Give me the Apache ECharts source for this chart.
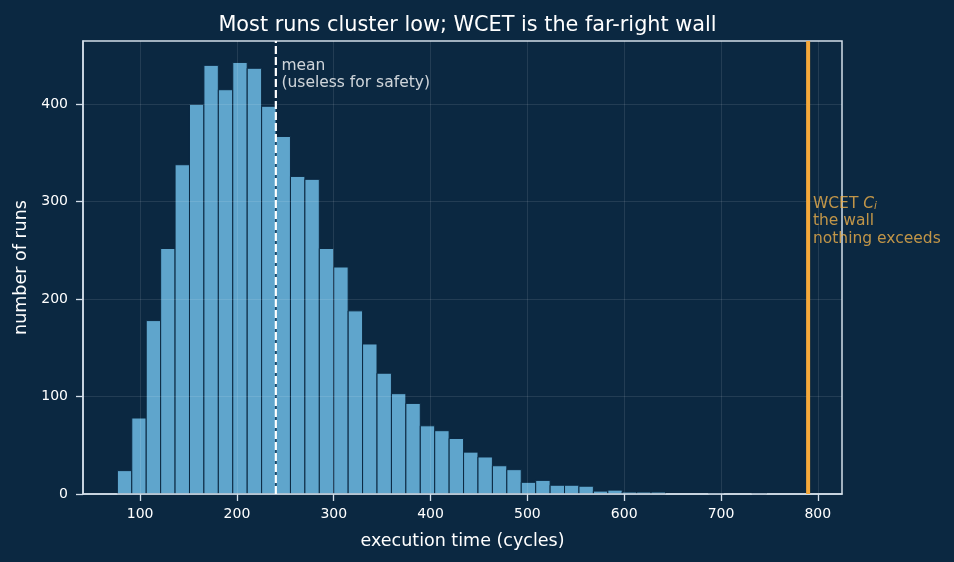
<!DOCTYPE html>
<html><head><meta charset="utf-8">
<script src="https://cdn.jsdelivr.net/npm/echarts@6/dist/echarts.min.js"></script>
<style>html,body{margin:0;padding:0;background:#0b2841;}#c{width:954px;height:562px;}</style>
</head><body><div id="c"></div>
<script>
const BIN_START = 76.5;
const BIN_WIDTH = 14.9;
const counts = [24, 78, 178, 252, 338, 400, 440, 415, 443, 437, 398, 367, 326, 323, 252, 233, 188, 154, 124, 103, 93, 70, 65, 57, 43, 38, 29, 25, 12, 14, 9, 9, 8, 3, 4, 2, 2, 2, 0, 0, 0, 1, 0, 0, 1];
const MEAN = 240.2;
const WCET = 790;
const X_MIN = 41, X_MAX = 825;
const Y_MIN = 0, Y_MAX = 465;
const xTicks = [100, 200, 300, 400, 500, 600, 700, 800];
const yTicks = [0, 100, 200, 300, 400];
const TITLE = 'Most runs cluster low; WCET is the far-right wall';
const MEAN_LABEL_POS = [246, 431];
const WCET_LABEL_POS = [795, 280];

const FONT = '"DejaVu Sans", sans-serif';
const bins = counts.map((c, i) => [BIN_START + i * BIN_WIDTH, BIN_START + (i + 1) * BIN_WIDTH, c]).filter(d => d[2] > 0);

const chart = echarts.init(document.getElementById('c'), null, {renderer: 'canvas'});
const spine = '#d3dee9';
const orange = '#efb04a';
chart.setOption({
  backgroundColor: '#0b2841',
  animation: false,
  title: {text: TITLE, left: 462.5, textAlign: 'center', top: 10, textStyle: {color: '#ffffff', fontFamily: FONT, fontSize: 20.8, fontWeight: 'normal'}},
  grid: {left: 83, right: 112, top: 41, bottom: 68, show: true, borderColor: spine, borderWidth: 1.5, backgroundColor: 'transparent'},
  xAxis: {
    type: 'value', min: X_MIN, max: X_MAX, z: 4,
    name: 'execution time (cycles)', nameLocation: 'middle', nameGap: 38,
    nameTextStyle: {color: '#ffffff', fontFamily: FONT, fontSize: 17.5},
    axisLine: {show: true, lineStyle: {color: spine, width: 1.5}},
    axisTick: {show: true, length: 7, lineStyle: {color: spine, width: 1.3}, customValues: xTicks},
    axisLabel: {color: '#ffffff', fontFamily: FONT, fontSize: 14, margin: 13, customValues: xTicks},
    splitLine: {show: true, lineStyle: {color: 'rgba(255,255,255,0.13)', width: 0.8}}
  },
  yAxis: {
    type: 'value', min: Y_MIN, max: Y_MAX, z: 4,
    name: 'number of runs', nameLocation: 'middle', nameGap: 51,
    nameTextStyle: {color: '#ffffff', fontFamily: FONT, fontSize: 17.5},
    axisLine: {show: true, lineStyle: {color: spine, width: 1.5}},
    axisTick: {show: true, length: 7, lineStyle: {color: spine, width: 1.3}, customValues: yTicks},
    axisLabel: {color: '#ffffff', fontFamily: FONT, fontSize: 14, margin: 15, customValues: yTicks},
    splitLine: {show: true, lineStyle: {color: 'rgba(255,255,255,0.13)', width: 0.8}}
  },
  series: [
    {
      type: 'custom',
      data: bins,
      encode: {x: [0, 1], y: 2},
      renderItem: function (params, api) {
        const p0 = api.coord([api.value(0), api.value(2)]);
        const p1 = api.coord([api.value(1), 0]);
        return {type: 'rect', shape: {x: p0[0], y: p0[1], width: p1[0] - p0[0], height: p1[1] - p0[1]},
          style: {fill: 'rgba(100,172,212,0.95)', stroke: '#0b2841', lineWidth: 1}};
      },
      z: 2
    },
    {
      type: 'line', data: [[MEAN, Y_MIN], [MEAN, Y_MAX]], symbol: 'none',
      lineStyle: {color: '#ffffff', width: 2.2, type: [8, 3]}, z: 5
    },
    {
      type: 'line', data: [[WCET, Y_MIN], [WCET, Y_MAX]], symbol: 'none',
      lineStyle: {color: '#f5a93b', width: 4}, z: 5
    },
    {
      type: 'scatter', symbolSize: 0, z: 6,
      data: [MEAN_LABEL_POS],
      label: {show: true, position: 'right', distance: 0, formatter: 'mean\n(useless for safety)',
        color: '#ffffff', fontFamily: FONT, fontSize: 15.5, lineHeight: 17, align: 'left'}
    },
    {
      type: 'scatter', symbolSize: 0, z: 6,
      data: [WCET_LABEL_POS],
      label: {show: true, position: 'right', distance: 0,
        formatter: '{a|WCET }{it|C}{sub|i}\n{a|the wall}\n{a|nothing exceeds}',
        color: orange, fontFamily: FONT, fontSize: 15.5, lineHeight: 17.5, align: 'left',
        rich: {
          a: {color: orange, fontFamily: FONT, fontSize: 15.5, lineHeight: 17.5},
          it: {color: orange, fontFamily: FONT, fontSize: 15.5, fontStyle: 'italic', lineHeight: 17.5},
          sub: {color: orange, fontFamily: FONT, fontSize: 10.5, fontStyle: 'italic', lineHeight: 17.5, padding: [6, 0, 0, 0]}
        }}
    }
  ]
});
</script></body></html>
